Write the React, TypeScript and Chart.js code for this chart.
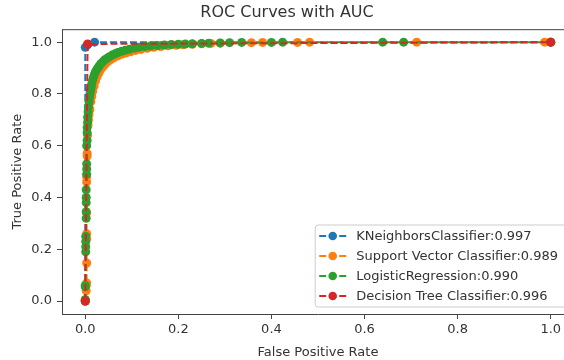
import React, { useEffect, useRef } from 'react';
import { Chart, registerables } from 'chart.js';

Chart.register(...registerables);

const seriesNames = ['KNeighborsClassifier', 'Support Vector Classifier', 'LogisticRegression', 'Decision Tree Classifier'];
const aucValues = [0.997, 0.989, 0.990, 0.996];
const seriesColors = ['#1f77b4', '#ff7f0e', '#2ca02c', '#d62728'];

const knnFpr = [0, 0, 0.005, 0.02, 1.0];
const knnTpr = [0, 0.98, 0.99, 1.0, 1.0];

const svcFpr = [0, 0, 0.002, 0.002, 0.003, 0.003, 0.003, 0.003, 0.003, 0.003, 0.003, 0.004, 0.004, 0.005, 0.006, 0.007, 0.008, 0.010, 0.012, 0.014, 0.016, 0.019, 0.022, 0.025, 0.029, 0.033, 0.038, 0.043, 0.049, 0.055, 0.062, 0.070, 0.078, 0.087, 0.097, 0.108, 0.120, 0.133, 0.147, 0.162, 0.178, 0.195, 0.210, 0.230, 0.250, 0.270, 0.290, 0.357, 0.381, 0.456, 0.482, 0.712, 0.987, 1.0];
const svcTpr = [0, 0.005, 0.04, 0.06, 0.07, 0.147, 0.24, 0.26, 0.34, 0.46, 0.48, 0.56, 0.57, 0.64, 0.68, 0.70, 0.72, 0.74, 0.77, 0.79, 0.81, 0.83, 0.85, 0.865, 0.88, 0.893, 0.905, 0.915, 0.925, 0.933, 0.94, 0.947, 0.953, 0.958, 0.963, 0.968, 0.972, 0.976, 0.98, 0.983, 0.986, 0.988, 0.99, 0.992, 0.994, 0.995, 0.996, 0.998, 0.999, 0.999, 1.0, 1.0, 1.0, 1.0];

const lrFpr = [0, 0, 0, 0, 0.001, 0.001, 0.001, 0.001, 0.002, 0.002, 0.002, 0.002, 0.002, 0.003, 0.003, 0.003, 0.003, 0.004, 0.004, 0.004, 0.005, 0.005, 0.006, 0.007, 0.008, 0.009, 0.010, 0.011, 0.012, 0.013, 0.014, 0.016, 0.018, 0.020, 0.022, 0.025, 0.028, 0.031, 0.034, 0.038, 0.042, 0.047, 0.052, 0.058, 0.064, 0.070, 0.078, 0.086, 0.095, 0.105, 0.115, 0.127, 0.140, 0.155, 0.170, 0.185, 0.200, 0.215, 0.230, 0.250, 0.265, 0.290, 0.310, 0.336, 0.400, 0.424, 0.639, 0.684, 1.0];
const lrTpr = [0, 0.005, 0.055, 0.06, 0.19, 0.21, 0.23, 0.25, 0.32, 0.345, 0.38, 0.40, 0.43, 0.49, 0.51, 0.53, 0.60, 0.62, 0.65, 0.67, 0.69, 0.71, 0.73, 0.75, 0.77, 0.785, 0.80, 0.81, 0.82, 0.83, 0.84, 0.855, 0.867, 0.877, 0.886, 0.895, 0.903, 0.911, 0.918, 0.925, 0.932, 0.938, 0.944, 0.95, 0.955, 0.96, 0.965, 0.969, 0.973, 0.977, 0.98, 0.983, 0.985, 0.987, 0.989, 0.991, 0.992, 0.993, 0.994, 0.995, 0.996, 0.997, 0.998, 0.999, 0.999, 1.0, 1.0, 1.0, 1.0];

const dtFpr = [0, 0.005, 1.0];
const dtTpr = [0, 0.993, 1.0];

const xTickValues = [0, 0.2, 0.4, 0.6, 0.8, 1.0];
const yTickValues = [0, 0.2, 0.4, 0.6, 0.8, 1.0];

const titleText = 'ROC Curves with AUC';
const xTitle = 'False Positive Rate';
const yTitle = 'True Positive Rate';

const FONT = '"DejaVu Sans", sans-serif';
const TEXT_COLOR = '#333';
const AXIS_COLOR = '#444';

const toPoints = (xs: number[], ys: number[]) => xs.map((x, i) => ({ x, y: ys[i] }));

const frameAndLegend = {
  id: 'frameAndLegend',
  afterDraw(chart: any) {
    const { ctx, chartArea } = chart;
    ctx.save();
    ctx.strokeStyle = AXIS_COLOR;
    ctx.lineWidth = 1;
    ctx.beginPath();
    ctx.moveTo(chartArea.left, chartArea.top + 0.5);
    ctx.lineTo(chartArea.right, chartArea.top + 0.5);
    ctx.moveTo(chartArea.right - 0.5, chartArea.top);
    ctx.lineTo(chartArea.right - 0.5, chartArea.bottom);
    ctx.stroke();

    ctx.font = '13px ' + FONT;
    const labels = seriesNames.map((n, i) => `${n}:${aucValues[i].toFixed(3)}`);
    const maxW = Math.max(...labels.map((l) => ctx.measureText(l).width));
    const rowH = 20;
    const boxH = 11 * 2 + rowH * (labels.length - 1);
    const boxRight = chartArea.right - 7;
    const boxBottom = chartArea.bottom - 7;
    const boxW = maxW + 41 + 9;
    const boxLeft = boxRight - boxW;
    const boxTop = boxBottom - boxH;
    const r = 3;
    ctx.beginPath();
    ctx.moveTo(boxLeft + r, boxTop);
    ctx.lineTo(boxRight - r, boxTop);
    ctx.arcTo(boxRight, boxTop, boxRight, boxTop + r, r);
    ctx.lineTo(boxRight, boxBottom - r);
    ctx.arcTo(boxRight, boxBottom, boxRight - r, boxBottom, r);
    ctx.lineTo(boxLeft + r, boxBottom);
    ctx.arcTo(boxLeft, boxBottom, boxLeft, boxBottom - r, r);
    ctx.lineTo(boxLeft, boxTop + r);
    ctx.arcTo(boxLeft, boxTop, boxLeft + r, boxTop, r);
    ctx.closePath();
    ctx.fillStyle = 'rgba(255,255,255,0.8)';
    ctx.fill();
    ctx.strokeStyle = '#cccccc';
    ctx.lineWidth = 1;
    ctx.stroke();

    labels.forEach((label, i) => {
      const cy = boxTop + 11 + i * rowH;
      const hx0 = boxLeft + 4;
      const hx1 = boxLeft + 31;
      const hc = (hx0 + hx1) / 2;
      ctx.strokeStyle = seriesColors[i];
      ctx.lineWidth = 2;
      ctx.setLineDash([7, 3]);
      ctx.beginPath();
      ctx.moveTo(hx0, cy);
      ctx.lineTo(hx1, cy);
      ctx.stroke();
      ctx.setLineDash([]);
      ctx.fillStyle = seriesColors[i];
      ctx.beginPath();
      ctx.arc(hc, cy, 4.3, 0, Math.PI * 2);
      ctx.fill();
      ctx.fillStyle = TEXT_COLOR;
      ctx.textBaseline = 'middle';
      ctx.textAlign = 'left';
      ctx.fillText(label, boxLeft + 41, cy + 1);
    });
    ctx.restore();
  },
};

export default function App() {
  const canvasRef = useRef<HTMLCanvasElement | null>(null);

  useEffect(() => {
    if (!canvasRef.current) return;
    const series = [
      toPoints(knnFpr, knnTpr),
      toPoints(svcFpr, svcTpr),
      toPoints(lrFpr, lrTpr),
      toPoints(dtFpr, dtTpr),
    ];
    const datasets = series.map((data, i) => ({
      label: `${seriesNames[i]}:${aucValues[i].toFixed(3)}`,
      data,
      showLine: true,
      borderColor: seriesColors[i],
      backgroundColor: seriesColors[i],
      borderWidth: 2,
      borderDash: [7, 3],
      pointRadius: 4.5,
      pointBorderWidth: 0,
      pointHoverRadius: 4.5,
      order: series.length - 1 - i,
    }));

    const axisCommon = (title: string, ticksArr: number[], isY: boolean) => ({
      type: 'linear' as const,
      min: -0.05,
      max: 1.05,
      afterBuildTicks: (axis: any) => {
        axis.ticks = ticksArr.map((v) => ({ value: v }));
      },
      afterFit: (scale: any) => {
        if (isY) scale.width = 62;
        else scale.height = 46;
      },
      ticks: {
        callback: (v: any) => Number(v).toFixed(1),
        font: { family: FONT, size: 13 },
        color: TEXT_COLOR,
        padding: isY ? 5 : 3,
        maxRotation: 0,
        autoSkip: false,
      },
      grid: {
        display: true,
        drawOnChartArea: false,
        drawTicks: true,
        tickLength: 5,
        color: AXIS_COLOR,
      },
      border: { display: true, color: AXIS_COLOR, width: 1 },
      title: {
        display: true,
        text: title,
        font: { family: FONT, size: 13 },
        color: TEXT_COLOR,
        padding: isY ? { top: 10, bottom: 0 } : { top: 2, bottom: 0 },
      },
    });

    const chart = new Chart(canvasRef.current, {
      type: 'scatter',
      data: { datasets },
      options: {
        animation: false,
        responsive: true,
        maintainAspectRatio: false,
        layout: { padding: { left: 0, right: 26, top: 0, bottom: 0 } },
        plugins: {
          legend: { display: false },
          tooltip: { enabled: false },
          title: {
            display: true,
            text: titleText,
            font: { family: FONT, size: 16, weight: 'normal' },
            color: TEXT_COLOR,
            padding: { top: 3, bottom: 7 },
          },
        },
        scales: {
          x: axisCommon(xTitle, xTickValues, false),
          y: axisCommon(yTitle, yTickValues, true),
        },
      },
      plugins: [frameAndLegend],
    } as any);
    return () => chart.destroy();
  }, []);

  return (
    <div style={{ position: 'fixed', left: 0, top: 0, width: 564, height: 360, overflow: 'hidden', background: '#fff' }}>
      <div style={{ position: 'relative', width: 600, height: 360, filter: 'blur(0.4px)' }}>
        <canvas ref={canvasRef} />
      </div>
    </div>
  );
}
